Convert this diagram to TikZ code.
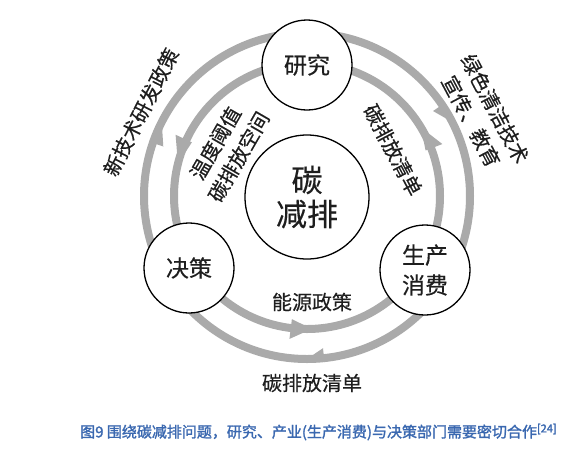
\documentclass[tikz,border=0pt]{standalone}
\usepackage{fontspec}
\setmainfont[FakeBold=0.35]{Noto Sans CJK SC}
\newfontfamily\capfont[FakeBold=1.6]{Noto Sans CJK SC}
\definecolor{ringgray}{RGB}{170,170,170}
\definecolor{txt}{RGB}{30,30,30}
\definecolor{capblue}{RGB}{58,104,176}
% arrow head on a ring: #1 ring radius, #2 base angle, #3 tip angle, #4 inner radius, #5 outer radius
\newcommand{\ahead}[5]{\fill[ringgray] (#2:#4) -- (#3:#1) -- (#2:#5) -- cycle;}
\tikzset{
  ringline/.style={draw=ringgray, line width=8pt},
  actor/.style={circle, draw=black, line width=1.3pt, fill=white, minimum size=90pt, inner sep=0pt, text=txt, align=center, font=\fontsize{23}{30}\selectfont},
  core/.style={circle, draw=black, line width=1.3pt, fill=white, minimum size=124pt, inner sep=0pt, text=txt, align=center, font=\fontsize{31}{34}\selectfont},
  lbl/.style={text=txt, inner sep=0pt, align=center, font=\fontsize{20}{27}\selectfont},
}
\begin{document}
\begin{tikzpicture}[x=1pt,y=1pt]
\fill[white] (0,0) rectangle (571,-451);
\useasboundingbox (0,0) rectangle (571,-451);
\coordinate (C) at (307,-196);
% rings
\draw[ringline] (C) circle[radius=163];
\draw[ringline] (C) circle[radius=133];
\begin{scope}[shift={(307,-196)}]
  % inner ring (counterclockwise)
  \ahead{133}{155}{166}{127}{145}
  \ahead{133}{21}{31}{127}{145}
  \ahead{133}{263}{272}{124}{144}
  % outer ring (clockwise)
  \ahead{163}{161}{153}{152}{167}
  \ahead{163}{34}{27}{152}{167}
  \ahead{163}{276}{270}{153}{167}
\end{scope}
% nodes
\node[core] (core) at (307,-197) {碳\\减排};
\node[actor] (res) at (307,-65) {研究};
\node[actor] (pol) at (189,-268) {决策};
\node[actor] (prod) at (425,-270) {生产\\消费};
% labels
\node[lbl, rotate=63] (l1) at (141,-112) {新技术研发政策};
\node[lbl, rotate=-62] (l2) at (483,-115) {绿色清洁技术\\宣传、教育};
\node[lbl, rotate=60] (l3) at (227,-150) {温度阈值\\碳排放空间};
\node[lbl, rotate=-62] (l4) at (393,-150) {碳排放清单};
\node[lbl] (l5) at (312,-302) {能源政策};
\node[lbl] (l6) at (312,-383) {碳排放清单};
% caption
\node[anchor=west, inner sep=0pt, text=capblue, font=\capfont\fontsize{15}{18}\selectfont] (cap) at (80,-432) {图9 围绕碳减排问题，研究、产业(生产消费)与决策部门需要密切合作\raisebox{5pt}{\fontsize{11}{11}\selectfont[24]}};
\end{tikzpicture}
\end{document}
